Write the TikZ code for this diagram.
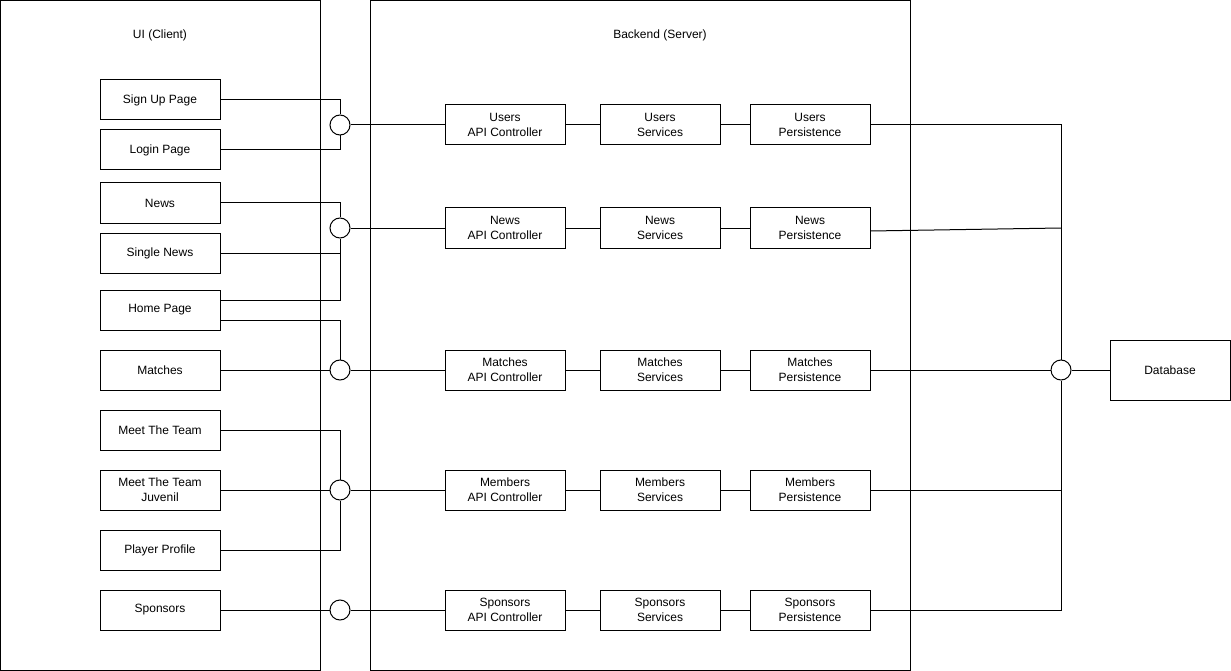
\documentclass[tikz,border=0pt]{standalone}
\usepackage{fontspec}
\setmainfont{Liberation Sans}
\begin{document}
\begin{tikzpicture}[x=1pt,y=-1pt,line width=1pt,
  box/.style={draw,minimum width=120pt,minimum height=40pt,align=center,inner sep=0pt,font=\fontsize{12}{15}\selectfont,line width=1pt},
  port/.style={draw,circle,minimum size=20pt,inner sep=0pt,fill=white,line width=1pt},
  ttl/.style={font=\fontsize{12}{14}\selectfont}]
\useasboundingbox (0,0) rectangle (1231,671);
% containers
\draw (0.5,0.5) rectangle (320,670);
\draw (370,0.5) rectangle (910,670);
\node[ttl] (uit) at (160,35) {UI (Client)};
\node[ttl] (bet) at (660,35) {Backend (Server)};
% UI pages
\node[box] (signup) at (160,100) {Sign Up Page};
\node[box] (login) at (160,150) {Login Page};
\node[box] (news) at (160,203) {News};
\node[box] (single) at (160,253) {Single News};
\node[box] (home) at (160,310) {Home Page};
\node[box] (matches) at (160,370) {Matches};
\node[box] (team) at (160,430) {Meet The Team};
\node[box] (juv) at (160,490) {Meet The Team\\Juvenil};
\node[box] (player) at (160,550) {Player Profile};
\node[box] (spons) at (160,610) {Sponsors};
% ports
\node[port] (pu) at (340,125) {};
\node[port] (pn) at (340,228) {};
\node[port] (pm) at (340,370) {};
\node[port] (pt) at (340,490) {};
\node[port] (ps) at (340,610) {};
\node[port] (pdb) at (1061,370) {};
% backend rows
\foreach \n/\N/\y in {u/Users/125,n/News/228,m/Matches/370,t/Members/490,s/Sponsors/610}{
  \node[box] (api\n) at (505,\y) {\N\\API Controller};
  \node[box] (srv\n) at (660,\y) {\N\\Services};
  \node[box] (per\n) at (810,\y) {\N\\Persistence};
  \draw (p\n.east) -- (api\n.west);
  \draw (api\n.east) -- (srv\n.west);
  \draw (srv\n.east) -- (per\n.west);
}
% database
\node[box,minimum height=60pt] (db) at (1170,370) {Database};
% UI connectors
\draw (signup.east) -| (pu.north);
\draw (login.east) -| (pu.south);
\draw (news.east) -| (pn.north);
\draw (single.east) -| (pn.south);
\draw ([yshift=10pt]home.east) -| (pn.south);
\draw ([yshift=-10pt]home.east) -| (pm.north);
\draw (matches.east) -- (pm.west);
\draw (team.east) -| (pt.north);
\draw (juv.east) -- (pt.west);
\draw (player.east) -| (pt.south);
\draw (spons.east) -- (ps.west);
% persistence to database
\coordinate (jn) at (1061,228);
\draw (peru.east) -| (pdb.north);
\draw ([yshift=-3pt]pern.east) -- (jn);
\draw (perm.east) -- (pdb.west);
\draw (pert.east) -| (pdb.south);
\draw (pers.east) -| (pdb.south);
\draw (pdb.east) -- (db.west);
\end{tikzpicture}
\end{document}
